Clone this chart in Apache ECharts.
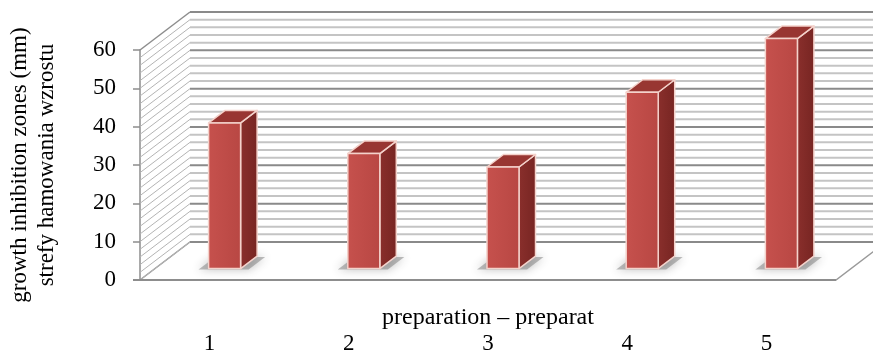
<!DOCTYPE html>
<html>
<head>
<meta charset="utf-8">
<script src="https://cdn.jsdelivr.net/npm/echarts@6/dist/echarts.min.js"></script>
<style>
  html, body { margin: 0; padding: 0; background: #ffffff; }
  #chart { width: 873px; height: 353px; }
</style>
</head>
<body>
<div id="chart"></div>
<script>
// Preparations on the category axis
const categories = ['1', '2', '3', '4', '5'];
// Growth inhibition zone per preparation (mm)
const zoneValues = [38, 30, 26.5, 46, 60];
// Value axis range and gridline spacing
const yMin = 0;
const yMax = 60;
const yMajorStep = 10;
const yMinorStep = 2;

// Oblique depth of the box (pixels) and where the columns sit inside it
const DEPTH_X = 50;
const DEPTH_Y = -38;
const COL_FRONT = 0.3;
const COL_BACK = 0.63;
const COL_WIDTH_RATIO = 0.23;

const FONT = '"Liberation Serif", "Times New Roman", serif';

const chart = echarts.init(document.getElementById('chart'), null, { renderer: 'canvas' });

// Back wall, side wall and floor of the 3-D box
function renderWalls(params, api) {
  const cs = params.coordSys;
  const x0 = cs.x;
  const x1 = cs.x + cs.width;
  const yFloor = api.coord([0, yMin])[1];
  const children = [];

  children.push({
    type: 'polygon',
    shape: { points: [[x0, yFloor], [x1, yFloor], [x1 + DEPTH_X, yFloor + DEPTH_Y], [x0 + DEPTH_X, yFloor + DEPTH_Y]] },
    style: { fill: '#ffffff', stroke: '#9a9a9a', lineWidth: 1.5 }
  });

  for (let v = yMin; v <= yMax; v += yMinorStep) {
    const y = api.coord([0, v])[1];
    const major = v % yMajorStep === 0;
    children.push({
      type: 'line',
      shape: { x1: x0 + DEPTH_X, y1: y + DEPTH_Y, x2: x1 + DEPTH_X, y2: y + DEPTH_Y },
      style: { stroke: major ? '#8a8a8a' : '#c4c4c4', lineWidth: 2 }
    });
    children.push({
      type: 'line',
      shape: { x1: x0, y1: y, x2: x0 + DEPTH_X, y2: y + DEPTH_Y },
      style: { stroke: v === yMax ? '#8d8d8d' : '#b4b4b4', lineWidth: v === yMax ? 1.5 : 1 }
    });
  }

  // front edge of the floor
  children.push({
    type: 'line',
    shape: { x1: x0 - 7, y1: yFloor, x2: x1, y2: yFloor },
    style: { stroke: '#8d8d8d', lineWidth: 2 }
  });
  return { type: 'group', children: children };
}

// Soft floor shadow under each column
function renderShadow(params, api) {
  const i = api.value(0);
  const base = api.coord([i, yMin]);
  const w = api.size([1, 0])[0] * COL_WIDTH_RATIO;
  const fx = DEPTH_X * COL_FRONT, fy = DEPTH_Y * COL_FRONT;
  const bx = DEPTH_X * (COL_BACK - COL_FRONT), by = DEPTH_Y * (COL_BACK - COL_FRONT);
  const xl = base[0] - w / 2 + fx - 10;
  const xr = base[0] + w / 2 + fx + 8;
  const yb = base[1] + fy + 1;
  return {
    type: 'polygon',
    shape: { points: [[xl, yb], [xr, yb], [xr + bx, yb + by], [xl + bx, yb + by]] },
    style: { fill: 'rgba(110,110,110,0.45)', shadowBlur: 10, shadowColor: 'rgba(50,50,50,0.7)' }
  };
}

// Column drawn as front, side and top faces
function renderColumn(params, api) {
  const i = api.value(0);
  const v = api.value(1);
  const base = api.coord([i, yMin]);
  const top = api.coord([i, v]);
  const w = api.size([1, 0])[0] * COL_WIDTH_RATIO;
  const h = base[1] - top[1];
  const fx = DEPTH_X * COL_FRONT, fy = DEPTH_Y * COL_FRONT;
  const bx = DEPTH_X * (COL_BACK - COL_FRONT), by = DEPTH_Y * (COL_BACK - COL_FRONT);
  const xl = base[0] - w / 2 + fx;
  const xr = xl + w;
  const yb = base[1] + fy;
  const yt = yb - h;
  const edge = { stroke: '#f4d2cb', lineWidth: 1.5, lineJoin: 'round' };
  return {
    type: 'group',
    children: [
      {
        type: 'polygon',
        shape: { points: [[xr, yb], [xr, yt], [xr + bx, yt + by], [xr + bx, yb + by]] },
        style: Object.assign({
          fill: new echarts.graphic.LinearGradient(0, 0, 1, 0, [
            { offset: 0, color: '#8a2f2c' }, { offset: 1, color: '#772522' }
          ])
        }, edge)
      },
      {
        type: 'polygon',
        shape: { points: [[xl, yt], [xr, yt], [xr + bx, yt + by], [xl + bx, yt + by]] },
        style: Object.assign({ fill: '#983632' }, edge)
      },
      {
        type: 'rect',
        shape: { x: xl, y: yt, width: w, height: h },
        style: Object.assign({
          fill: new echarts.graphic.LinearGradient(0, 0, 1, 0, [
            { offset: 0, color: '#c6514d' }, { offset: 1, color: '#b84743' }
          ])
        }, edge)
      }
    ]
  };
}

const columnData = zoneValues.map((v, i) => [i, v]);

chart.setOption({
  animation: false,
  backgroundColor: '#ffffff',
  grid: { left: 140, right: 37, top: 50, bottom: 73, containLabel: false, outerBoundsMode: 'none' },
  xAxis: {
    type: 'category',
    data: categories,
    boundaryGap: true,
    axisLine: { show: false },
    axisTick: { show: false },
    axisLabel: { margin: 52, fontSize: 23, fontFamily: FONT, color: '#000000' },
    name: 'preparation – preparat',
    nameLocation: 'middle',
    nameGap: 26,
    nameMoveOverlap: false,
    nameTextStyle: { fontSize: 24, fontFamily: FONT, color: '#000000' }
  },
  yAxis: {
    type: 'value',
    min: yMin,
    max: yMax,
    interval: yMajorStep,
    axisLine: { show: true, lineStyle: { color: '#8d8d8d', width: 1.5 } },
    axisTick: { show: true, length: 7, lineStyle: { color: '#8d8d8d', width: 1.5 } },
    axisLabel: { margin: 24, fontSize: 23, fontFamily: FONT, color: '#000000' },
    splitLine: { show: false },
    name: 'growth inhibition zones (mm)\nstrefy hamowania wzrostu',
    nameLocation: 'middle',
    nameGap: 80,
    nameMoveOverlap: false,
    nameTextStyle: { fontSize: 23, fontFamily: FONT, color: '#000000', lineHeight: 27, padding: [0, 0, 0, 0] }
  },
  series: [
    {
      type: 'custom',
      name: 'walls',
      renderItem: renderWalls,
      data: [[0, 0]],
      clip: false,
      silent: true,
      z: 1
    },
    {
      type: 'custom',
      name: 'shadow',
      renderItem: renderShadow,
      data: columnData,
      clip: false,
      silent: true,
      z: 2
    },
    {
      type: 'custom',
      name: 'zones',
      renderItem: renderColumn,
      data: columnData,
      clip: false,
      z: 3
    }
  ]
});
</script>
</body>
</html>
